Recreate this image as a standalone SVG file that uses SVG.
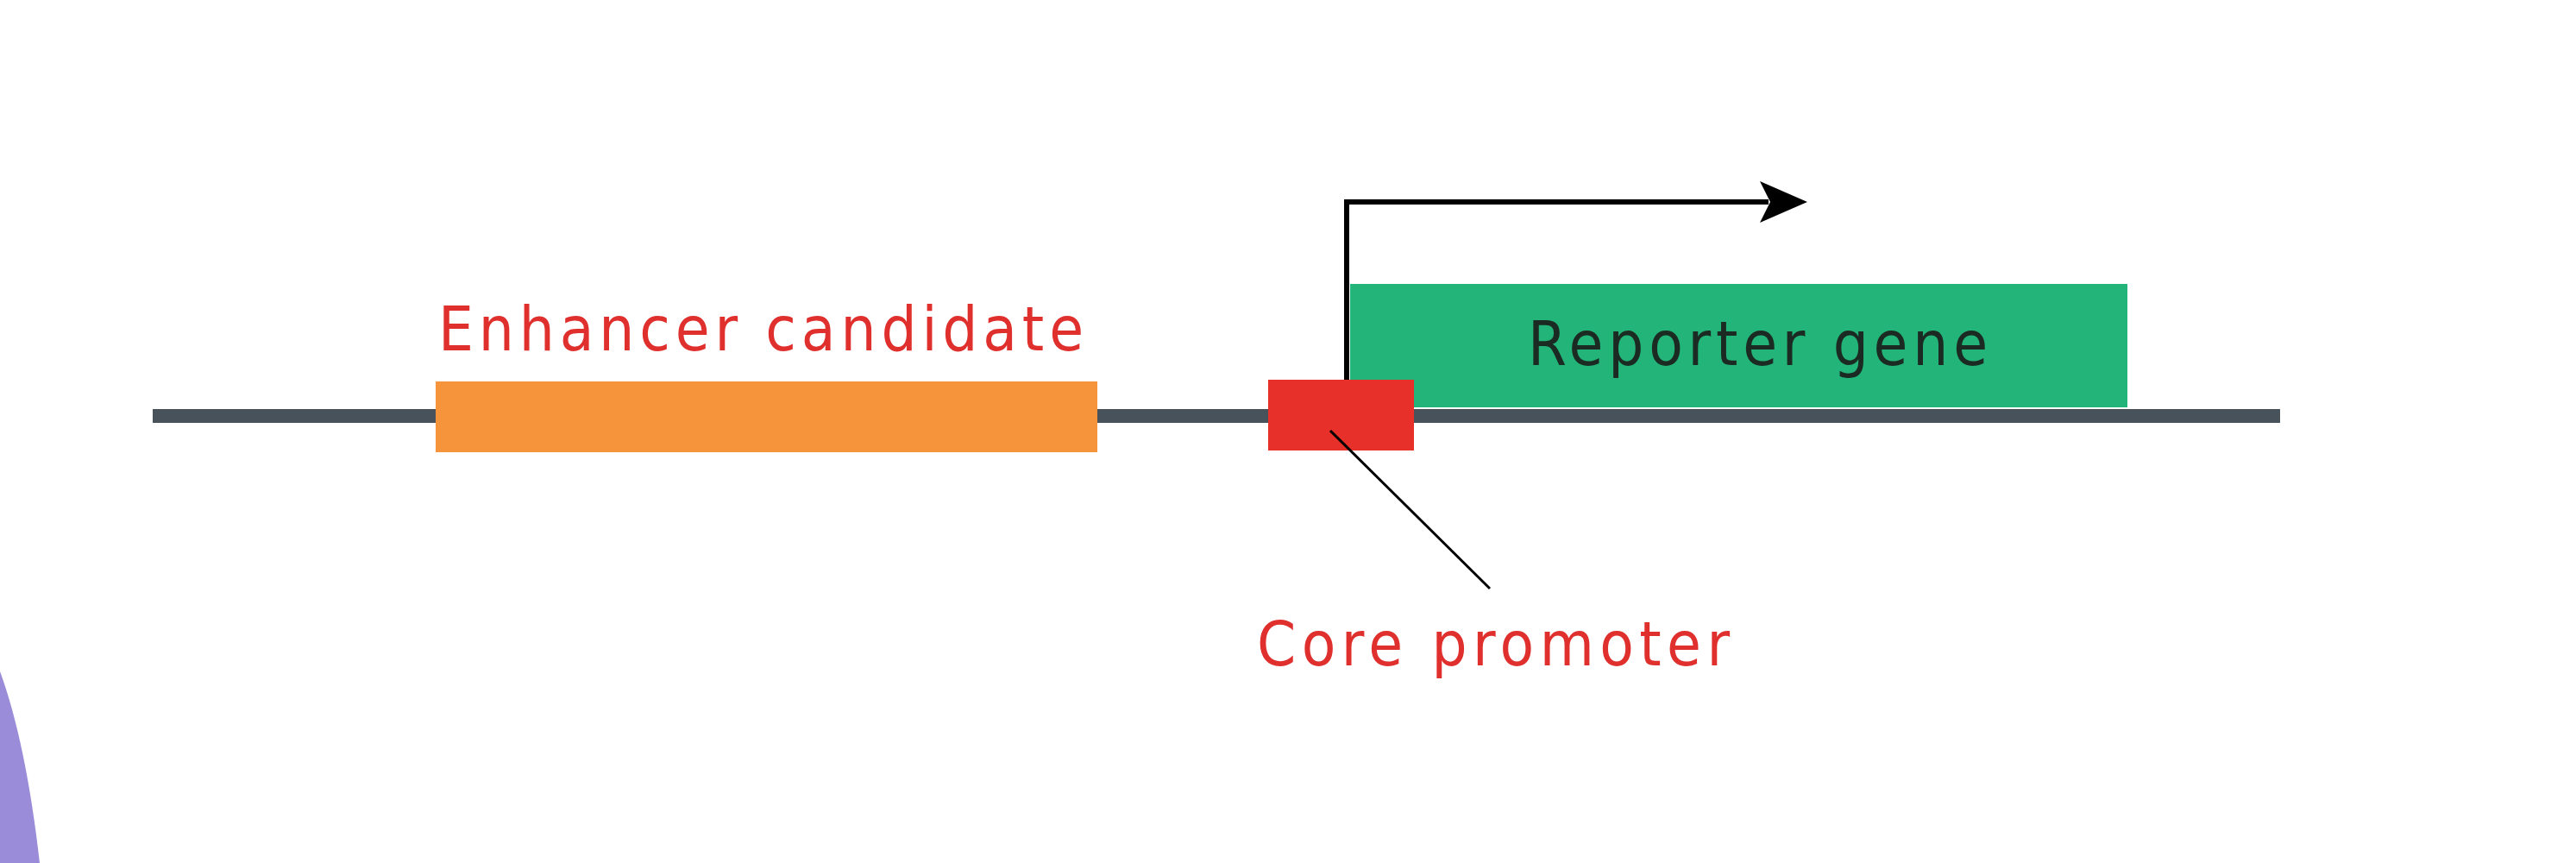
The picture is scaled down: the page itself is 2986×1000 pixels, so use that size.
<svg xmlns="http://www.w3.org/2000/svg" width="2986" height="1000" viewBox="0 0 2986 1000">
<style>
.lbl{font-family:"DejaVu Sans Condensed","DejaVu Sans",sans-serif;font-size:72px}
.red{fill:#e0302e}
</style>
<defs>
<marker id="ah" markerWidth="10" markerHeight="10" refX="8" refY="5" orient="auto" markerUnits="userSpaceOnUse" viewBox="0 0 10 10">
<path d="M0,0 L10,5 L0,10 L3,5 Z" fill="#000"/>
</marker>
</defs>
<rect width="2986" height="1000" fill="#fff"/>
<path d="M0,778 Q30,860 46,1000 L0,1000 Z" fill="#9a8cd8"/>
<g id="dna"><rect x="177" y="474" width="2466" height="16" fill="#48525a"/></g>
<g id="enhancer">
<rect x="505" y="442" width="767" height="82" fill="#f5943a"/>
<text class="lbl red" x="508" y="406" textLength="748">Enhancer candidate</text>
</g>
<g id="reporter">
<rect x="1565" y="329" width="901" height="143" fill="#22b478"/>
<text class="lbl" x="1771" y="423" fill="#1b2a22" textLength="533">Reporter gene</text>
</g>
<g id="promoter">
<rect x="1470" y="440" width="169" height="82" fill="#e8302a"/>
<text class="lbl red" x="1457" y="771" textLength="548">Core promoter</text>
</g>
<g id="connectors" fill="none" stroke="#000">
<path d="M1561,440 V234 H2050" stroke-width="6"/>
<path d="M2040,210 L2095,234 L2040,258 L2052,234 Z" fill="#000" stroke="none"/>
<line x1="1542" y1="499" x2="1727" y2="682" stroke-width="3"/>
</g>
</svg>
